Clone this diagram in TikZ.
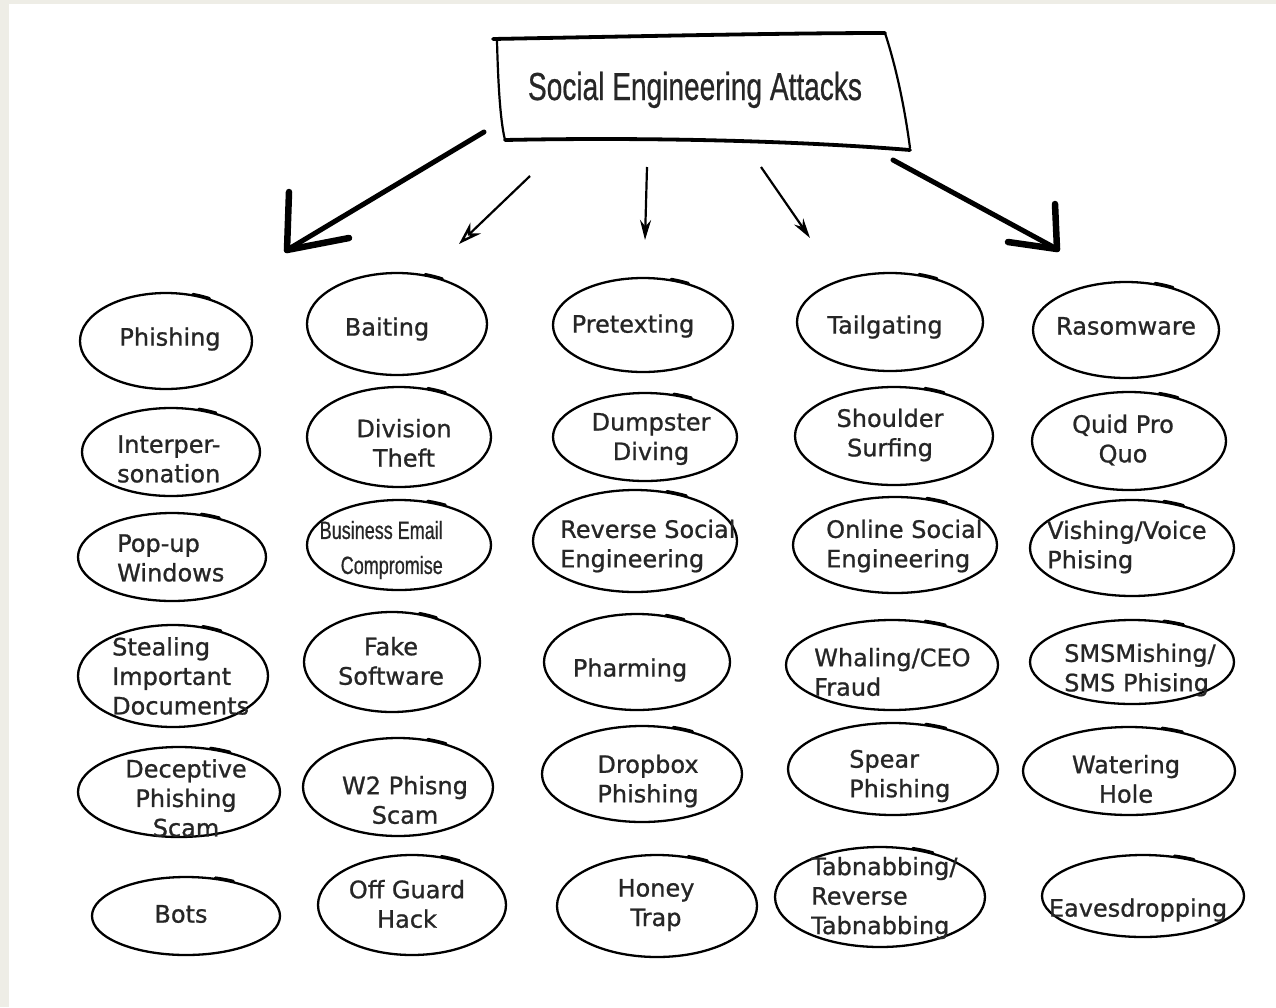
\documentclass[tikz,border=0pt]{standalone}
\usepackage{fontspec}
\setmainfont{DejaVu Sans}
\newfontfamily\lblfont{DejaVu Sans}[FakeBold=0.9]
\newfontfamily\condfont{Liberation Sans}[FakeBold=0.7]
\usetikzlibrary{arrows.meta,shapes.geometric}
\definecolor{paper}{HTML}{EEEDE6}
\definecolor{ink}{HTML}{262626}

\tikzset{
  bubble/.style={draw=black, line width=2.3pt, ellipse, inner sep=0pt},
  tag/.style={text=ink, font=\lblfont\fontsize{24}{29.5}\selectfont, inner sep=0pt, align=center},
  tagl/.style={tag, align=left, anchor=west},
  thinarrow/.style={line width=2.2pt, -{Stealth[open, length=23pt, width=15pt, line width=2.4pt]}},
  narrowarrow/.style={line width=2.2pt, -{Stealth[open, length=20pt, width=11pt, line width=2.4pt]}},
  heavy/.style={line width=5pt, line cap=round},
  barb/.style={line width=6.5pt, line cap=round},
  boxedge/.style={line width=2.2pt, line cap=round},
  boxrim/.style={line width=3.8pt, line cap=round},
}

% an oval with a small overlapping pen stroke near its top
\newcommand\bub[5]{%
  \node[bubble, minimum width={2*#4 pt}, minimum height={2*#5 pt}] (#1) at (#2,#3) {};
  \draw[line width=2.8pt, line cap=round] (#2,#3) ++({-72}:{#4+1} and {#5+1.2})
    arc[start angle=-72, end angle=-60, x radius={#4+1}, y radius={#5+1.2}];
}

\begin{document}
\begin{tikzpicture}[x=1pt, y=-1pt]
  \useasboundingbox (0,0) rectangle (1276,1007);
  \fill[paper] (0,0) rectangle (1276,1007);
  \fill[white] (9,4) rectangle (1276,1007);

  % title box
  \node[inner sep=0pt, anchor=base] (title) at (695,100)
    {\fontsize{39}{44}\selectfont\condfont\color{ink}\scalebox{0.72}[1]{Social Engineering Attacks}};
  \draw[boxrim] (493,39) .. controls (650,36) and (790,33) .. (885,33);
  \draw[boxedge] (885,33) .. controls (897,70) and (905,110) .. (910,148);
  \draw[boxrim] (505,140) .. controls (650,137) and (800,141) .. (910,150);
  \draw[boxedge] (497,41) .. controls (498,80) and (500,120) .. (505,140);

  % arrows out of the title
  \coordinate (s1) at (484,132);  \coordinate (e1) at (287,250);
  \coordinate (s2) at (530,176);  \coordinate (e2) at (459,244);
  \coordinate (s3) at (647,167);  \coordinate (e3) at (645,240);
  \coordinate (s4) at (761,167);  \coordinate (e4) at (810,238);
  \coordinate (s5) at (893,160);  \coordinate (e5) at (1057,249);
  \draw[heavy] (s1) -- (e1);
  \draw[barb] (e1) -- ++(2,-58);
  \draw[barb] (e1) -- ++(62,-12);
  \draw[thinarrow] (s2) -- (e2);
  \draw[narrowarrow] (s3) -- (e3);
  \draw[narrowarrow] (s4) -- (e4);
  \draw[heavy] (s5) -- (e5);
  \draw[barb] (e5) -- ++(-2,-45);
  \draw[barb] (e5) -- ++(-49,-7);

  % column 1
  \bub{phish}{166}{341}{86}{48}
  \node[tag] (tphish) at (170,339) {Phishing};
  \bub{imper}{171}{452}{89}{44}
  \node[tagl] (timper) at (117,459) {Interper-\\sonation};
  \bub{popup}{172}{557}{94}{44}
  \node[tagl] (tpopup) at (117,558) {Pop-up\\Windows};
  \bub{steal}{173}{676}{95}{51}
  \node[tagl] (tsteal) at (112,676) {Stealing\\Important\\Documents};
  \bub{decep}{179}{792}{101}{45}
  \node[tag] (tdecep) at (186,798) {Deceptive\\Phishing\\Scam};
  \bub{bots}{186}{916}{94}{39}
  \node[tag] (tbots) at (181,914) {Bots};

  % column 2
  \bub{bait}{397}{324}{90}{51}
  \node[tag] (tbait) at (387,329) {Baiting};
  \bub{divis}{399}{437}{92}{50}
  \node[tag] (tdivis) at (404,443) {Division\\Theft};
  \bub{bec}{399}{545}{92}{45}
  \node[tag, align=right, anchor=east, font=\fontsize{25}{35}\selectfont\condfont] (tbec) at (443,550)
    {\scalebox{0.72}[1]{Business Email}\\\scalebox{0.72}[1]{Compromise}};
  \bub{fake}{392}{662}{88}{50}
  \node[tag] (tfake) at (391,661) {Fake\\Software};
  \bub{wtwo}{398}{787}{95}{49}
  \node[tag] (twtwo) at (405,800) {W2 Phisng\\Scam};
  \bub{guard}{412}{905}{94}{50}
  \node[tag] (tguard) at (407,904) {Off Guard\\Hack};

  % column 3
  \bub{pretx}{643}{325}{90}{47}
  \node[tag] (tpretx) at (633,326) {Pretexting};
  \bub{dump}{645}{437}{92}{44}
  \node[tag] (tdump) at (651,439) {Dumpster\\Diving};
  \bub{rse}{635}{541}{102}{51}
  \node[tagl] (trse) at (560,546) {Reverse Social\\Engineering};
  \bub{pharm}{637}{662}{93}{48}
  \node[tag] (tpharm) at (630,670) {Pharming};
  \bub{dropb}{642}{774}{100}{48}
  \node[tag] (tdropb) at (648,781) {Dropbox\\Phishing};
  \bub{honey}{657}{906}{100}{51}
  \node[tag] (thoney) at (656,905) {Honey\\Trap};

  % column 4
  \bub{tailg}{890}{322}{93}{49}
  \node[tag] (ttailg) at (885,327) {Tailgating};
  \bub{shoul}{894}{436}{99}{49}
  \node[tag] (tshoul) at (890,435) {Shoulder\\Surfing};
  \bub{ose}{895}{545}{102}{48}
  \node[tagl] (tose) at (826,546) {Online Social\\Engineering};
  \bub{whale}{892}{665}{106}{45}
  \node[tagl] (twhale) at (814,672) {Whaling/CEO\\Fraud};
  \bub{spear}{893}{769}{105}{46}
  \node[tagl] (tspear) at (849,776) {Spear\\Phishing};
  \bub{tabn}{880}{897}{105}{50}
  \node[tagl] (ttabn) at (811,898) {Tabnabbing/\\Reverse\\Tabnabbing};

  % column 5
  \bub{ransom}{1126}{330}{93}{48}
  \node[tag] (transom) at (1126,326) {Rasomware};
  \bub{quid}{1129}{441}{97}{49}
  \node[tag] (tquid) at (1123,440) {Quid Pro\\Quo};
  \bub{vish}{1132}{548}{102}{48}
  \node[tagl] (tvish) at (1047,547) {Vishing/Voice\\Phising};
  \bub{smish}{1132}{662}{102}{42}
  \node[tagl] (tsmish) at (1064,670) {SMSMishing/\\SMS Phising};
  \bub{water}{1129}{771}{106}{44}
  \node[tag] (twater) at (1126,779) {Watering\\Hole};
  \bub{eaves}{1143}{896}{101}{41}
  \node[tag] (teaves) at (1138,910) {Eavesdropping};
\end{tikzpicture}
\end{document}
